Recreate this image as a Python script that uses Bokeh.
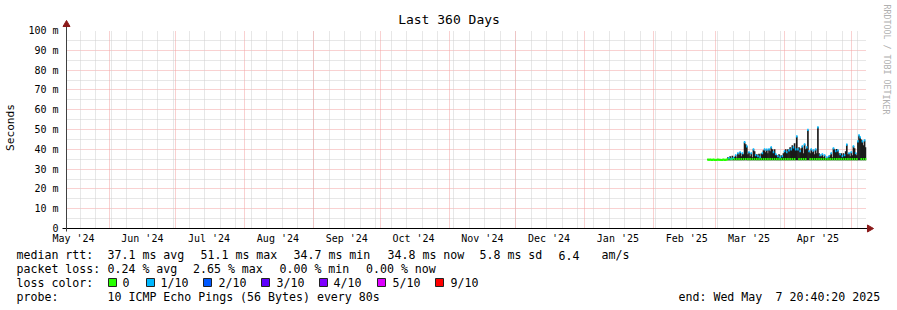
import pandas as pd
from math import pi
from bokeh.plotting import figure
from bokeh.models import (ColumnDataSource, Range1d, FixedTicker, Grid)
from bokeh.core.properties import value
from bokeh.embed import file_html
from bokeh.resources import INLINE

# ---------------- data ----------------
graph_start = "2024-05-12 20:40:20"
graph_end = "2025-05-07 20:40:20"
first_sample = "2025-02-25 12:00"      # 12 h consolidated RRA
sample_step = "12h"

median_ms = [
    34.8, 34.7, 34.8, 34.7, 34.7, 34.8, 34.7, 34.6, 34.7, 34.8, 34.7, 34.7, 34.6, 34.7, 34.8, 34.7, 34.7, 34.8,
    35.0, 35.5, 35.0, 35.2, 35.0, 35.5, 35.0, 37.0, 35.0,
    38.0, 35.0, 38.5, 35.0, 38.0, 35.0,
    43.6, 35.1, 41.5,
    35.0, 38.5, 35.0, 38.0, 35.0,
    40.0, 35.0, 37.0,
    35.0, 36.5, 35.0, 36.0, 35.0,
    38.0, 35.0, 40.0, 35.0, 39.8,
    35.0, 40.0, 35.0, 41.0, 35.0, 38.5, 35.0, 37.5,
    35.0, 36.5, 35.0, 36.0, 35.0, 36.5, 35.0,
    39.0, 35.0, 38.5, 35.0, 39.5, 35.0, 40.0,
    35.0, 41.0, 35.0, 40.0,
    46.5,
    40.0, 35.0, 39.0, 35.0, 41.5, 35.0,
    42.5, 35.0, 41.0,
    49.8,
    39.0, 35.0, 40.0, 35.0, 39.5, 35.0, 40.0, 35.0,
    51.1,
    35.0, 37.0, 35.0, 37.5, 35.0, 37.0,
    35.0, 36.0, 35.0, 36.5, 35.0, 38.0, 35.0,
    40.5, 35.0, 39.0, 35.0, 39.5, 35.0,
    37.5, 35.0, 36.5, 35.0, 37.0, 35.0,
    42.4,
    35.0, 38.0, 35.0, 38.5, 35.0,
    41.5, 35.0, 38.0, 35.0,
    44.0, 47.0, 46.0,
    35.0, 44.0, 35.0, 44.5, 35.0,
]

smoke_max_ms = [
    35.0, 35.0, 35.0, 35.0, 35.0, 35.0, 35.0, 35.0, 35.0, 35.0, 35.0, 35.0, 35.0, 35.0, 35.0, 35.0, 35.0, 35.0,
    36.0, 35.5, 36.5, 35.2, 36.8, 35.5, 36.2, 37.0, 35.8,
    38.0, 37.2, 38.5, 36.5, 38.0, 37.5,
    43.6, 42.5, 41.5,
    37.5, 38.5, 36.5, 38.0, 36.0,
    40.0, 39.0, 37.0,
    37.5, 36.5, 37.8, 36.0, 37.9,
    38.0, 39.5, 40.0, 38.5, 39.8,
    38.0, 40.0, 39.0, 41.0, 40.0, 38.5, 40.0, 37.5,
    37.0, 36.5, 37.5, 36.0, 37.0, 36.5, 38.0,
    39.0, 40.0, 38.5, 40.0, 39.5, 41.0, 40.0,
    42.0, 41.0, 43.0, 40.0,
    46.5,
    40.0, 41.0, 39.0, 40.5, 41.5, 38.0,
    42.5, 40.0, 41.0,
    49.8,
    39.0, 38.0, 40.0, 38.5, 39.5, 37.5, 40.0, 38.0,
    51.1,
    38.0, 37.0, 36.5, 37.5, 36.0, 37.0,
    35.5, 36.0, 35.5, 36.5, 37.0, 38.0, 36.0,
    40.5, 40.0, 39.0, 40.2, 39.5, 38.0,
    37.5, 38.0, 36.5, 38.0, 37.0, 39.0,
    42.4,
    37.5, 38.0, 36.5, 38.5, 37.0,
    41.5, 40.5, 38.0, 37.0,
    44.0, 47.0, 46.0,
    45.0, 44.0, 42.0, 44.5, 41.0,
]

smoke_min_ms = [
    34.6, 34.6, 34.6, 34.6, 34.6, 34.6, 34.6, 34.6, 34.6, 34.6, 34.6, 34.6, 34.6, 34.6, 34.6, 34.6, 34.6, 34.6,
    34.5, 34.5, 34.5, 34.5, 34.5, 34.5, 34.5, 34.5, 34.5,
    34.5, 34.5, 34.5, 34.5, 34.5, 34.5,
    34.5, 34.5, 34.5,
    34.5, 34.5, 34.5, 34.5, 34.5,
    34.5, 34.5, 34.5,
    34.5, 34.5, 34.5, 34.5, 34.5,
    34.5, 34.5, 34.5, 34.5, 34.5,
    34.5, 34.5, 34.5, 34.5, 34.5, 34.5, 34.5, 34.5,
    34.5, 34.5, 34.5, 34.5, 34.5, 34.5, 34.5,
    34.5, 34.5, 34.5, 34.5, 34.5, 34.5, 34.5,
    34.5, 34.5, 34.5, 34.5,
    34.5,
    34.5, 34.5, 34.5, 34.5, 34.5, 34.5,
    34.5, 34.5, 34.5,
    34.5,
    34.5, 34.5, 34.5, 34.5, 34.5, 34.5, 34.5, 34.5,
    34.5,
    34.5, 34.5, 34.5, 34.5, 34.5, 34.5,
    34.5, 34.5, 34.5, 34.5, 34.5, 34.5, 34.5,
    34.5, 34.5, 34.5, 34.5, 34.5, 34.5,
    34.5, 34.5, 34.5, 34.5, 34.5, 34.5,
    34.5,
    34.5, 34.5, 34.5, 34.5, 34.5,
    34.5, 34.5, 34.5, 34.5,
    34.5, 34.5, 34.5,
    34.5, 34.5, 34.5, 34.5, 34.5,
]

loss_tenths = [
    0, 0, 0, 0, 0, 0, 0, 0, 0, 0, 0, 0, 0, 0, 0, 0, 0, 0,
    0, 1, 0, 1, 0, 1, 0, 1, 0,
    1, 0, 1, 0, 1, 0,
    1, 0, 1,
    0, 1, 0, 1, 0,
    1, 0, 1,
    0, 1, 0, 1, 0,
    1, 0, 1, 0, 1,
    0, 1, 0, 1, 0, 1, 0, 1,
    0, 1, 0, 1, 0, 1, 0,
    1, 0, 1, 0, 1, 0, 1,
    0, 1, 0, 1,
    1,
    1, 0, 1, 0, 1, 0,
    1, 0, 1,
    1,
    1, 0, 1, 0, 1, 0, 1, 0,
    1,
    0, 1, 0, 1, 0, 1,
    0, 1, 0, 1, 0, 1, 0,
    1, 0, 1, 0, 1, 0,
    1, 0, 1, 0, 1, 0,
    1,
    0, 1, 0, 1, 0,
    1, 0, 1, 0,
    1, 1, 1,
    0, 1, 0, 1, 0,
]

month_labels = ["May '24", "Jun '24", "Jul '24", "Aug '24", "Sep '24", "Oct '24",
                "Nov '24", "Dec '24", "Jan '25", "Feb '25", "Mar '25", "Apr '25"]
y_tick_values = [0, 10, 20, 30, 40, 50, 60, 70, 80, 90, 100]
y_tick_labels = ["0", "10 m", "20 m", "30 m", "40 m", "50 m", "60 m", "70 m", "80 m", "90 m", "100 m"]
y_minor_values = [5, 15, 25, 35, 45, 55, 65, 75, 85, 95]

loss_legend_labels = ["0", "1/10", "2/10", "3/10", "4/10", "5/10", "9/10"]
loss_legend_colors = ["#26ff00", "#00b8ff", "#0059ff", "#5e00ff", "#7e00ff", "#dd00ff", "#ff0000"]
loss_color_by_tenths = {0: "#26ff00", 1: "#00b8ff", 2: "#0059ff", 3: "#5e00ff",
                        4: "#7e00ff", 5: "#dd00ff", 9: "#ff0000"}

title_text = "Last 360 Days"
y_label_text = "Seconds"
rtt_items = ["median rtt:", "37.1 ms avg", "51.1 ms max", "34.7 ms min", "34.8 ms now",
             "5.8 ms sd", "6.4", "am/s"]
loss_items = ["packet loss:", "0.24 % avg", "2.65 % max", "0.00 % min", "0.00 % now"]
color_heading = "loss color:"
probe_items = ["probe:", "10 ICMP Echo Pings (56 Bytes) every 80s"]
end_items = ["end: Wed May", "7 20:40:20 2025"]
watermark = "RRDTOOL / TOBI OETIKER"

# ---------------- geometry ----------------
W, H = 897, 310
FL, FR, FT, FB = 66, 866, 30, 228
MONO = "DejaVu Sans Mono"


def ms(ts):
    return pd.Timestamp(ts).value / 1e6


x0, x1 = ms(graph_start), ms(graph_end)
y0, y1 = 0.0, 100.0


def px_x(px):
    return x0 + (px - FL) / (FR - FL) * (x1 - x0)


def px_y(py):
    return y0 + (FB - py) / (FB - FT) * (y1 - y0)


times = pd.date_range(first_sample, periods=len(median_ms), freq=sample_step)
step_ms = 12 * 3600 * 1000
band = 0.55

src = ColumnDataSource(dict(
    t=times,
    lo=smoke_min_ms,
    hi=smoke_max_ms,
    mlo=[m - band for m in median_ms],
    mhi=[m + band for m in median_ms],
    color=[loss_color_by_tenths[l] for l in loss_tenths],
))

p = figure(width=W, height=H, x_axis_type="datetime",
           x_range=Range1d(x0, x1), y_range=Range1d(y0, y1),
           output_backend="svg", toolbar_location=None,
           min_border_left=FL, min_border_right=W - FR,
           min_border_top=FT, min_border_bottom=H - FB)
p.background_fill_color = "white"
p.border_fill_color = "white"
p.outline_line_color = None

# grids
p.xgrid.grid_line_color = None
week_ticks = [ms(t) for t in pd.date_range("2024-05-19", graph_end, freq="7D")]
month_ticks = [ms(t) for t in pd.date_range("2024-06-01", graph_end, freq="MS")]
p.add_layout(Grid(dimension=0, ticker=FixedTicker(ticks=week_ticks),
                  grid_line_color="#cfcfcf", grid_line_dash="1 1"))
p.add_layout(Grid(dimension=0, ticker=FixedTicker(ticks=month_ticks),
                  grid_line_color="#f3a3a3", grid_line_dash="1 1"))

p.yaxis.ticker = FixedTicker(ticks=y_tick_values, minor_ticks=y_minor_values)
p.ygrid.grid_line_color = "#f3a3a3"
p.ygrid.grid_line_dash = "1 1"
p.ygrid.minor_grid_line_color = "#cfcfcf"
p.ygrid.minor_grid_line_dash = "1 1"

# axes
label_ticks = [ms(t) + 15 * 86400000 for t in pd.date_range("2024-05-01", periods=len(month_labels), freq="MS")]
p.xaxis.ticker = FixedTicker(ticks=label_ticks)
p.xaxis.major_label_overrides = {k: v for k, v in zip(label_ticks, month_labels)}
p.yaxis.major_label_overrides = {k: v for k, v in zip(y_tick_values, y_tick_labels)}
for ax in (p.xaxis, p.yaxis):
    ax.axis_line_color = None
    ax.major_tick_line_color = None
    ax.minor_tick_line_color = None
    ax.major_label_text_font = MONO
    ax.major_label_text_font_size = "10px"
    ax.major_label_text_color = "#000000"
p.xaxis.major_label_standoff = -2
p.yaxis.major_label_standoff = 2

# smoke + median
p.vbar(x="t", width=step_ms * 1.5, bottom="lo", top="hi", source=src,
       fill_color="#1a1a1a", line_color=None)
p.vbar(x="t", width=step_ms * 1.4, bottom="mlo", top="mhi", source=src,
       fill_color="color", line_color=None)

# axis lines and arrow heads (overlay level: drawn outside the frame too)
p.segment(x0=[px_x(62), x0], y0=[0, px_y(231)], x1=[px_x(869), x0], y1=[0, px_y(25)],
          line_color=["#000000", "#404040"], line_width=1, level="overlay")
arrow_col = "#8b1a1a"
p.scatter(x=[px_x(869)], y=[0], marker="triangle", angle=-pi / 2, size=7,
          fill_color=arrow_col, line_color=arrow_col, level="overlay")
p.scatter(x=[x0], y=[px_y(24)], marker="triangle", size=7,
          fill_color=arrow_col, line_color=arrow_col, level="overlay")

# texts
tx, ty, tt, tsize, talign, tangle, tcolor = [], [], [], [], [], [], []


def add_text(px, py, s, size="11.6px", align="left", angle=0.0, color="#000000"):
    tx.append(px_x(px)); ty.append(px_y(py)); tt.append(s); tsize.append(size)
    talign.append(align); tangle.append(angle); tcolor.append(color)


add_text(448.5, 19, title_text, size="13px", align="center")
add_text(10, 127, y_label_text, size="11.2px", align="center", angle=pi / 2)
add_text(886, 4, watermark, size="8.3px", align="left", angle=-pi / 2, color="#b0b0b0")

for px, s in zip([16, 107, 200, 293, 387, 479, 558, 601], rtt_items):
    add_text(px, 254.5, s)
for px, s in zip([16, 107, 192.5, 279, 365.5], loss_items):
    add_text(px, 268, s)
add_text(16, 282, color_heading)
for px, s in zip([16, 107], probe_items):
    add_text(px, 296, s)
for px, s in zip([678, 775], end_items):
    add_text(px, 296, s)

box_left = [108, 146, 203, 261, 319, 377, 435]
label_left = [122, 160, 218, 276, 333, 392, 450]
for tl, lab in zip(label_left, loss_legend_labels):
    add_text(tl, 282, lab)

text_src = ColumnDataSource(dict(x=tx, y=ty, text=tt, size=tsize, align=talign,
                                 angle=tangle, color=tcolor))
p.text(x="x", y="y", text="text", source=text_src, text_font=value(MONO),
       text_font_size="size", text_align="align", text_baseline="middle",
       angle="angle", text_color="color", level="overlay")

p.quad(left=[px_x(b) for b in box_left], right=[px_x(b + 8) for b in box_left],
       bottom=px_y(286), top=px_y(278), fill_color=loss_legend_colors,
       line_color="#222222", line_width=1, level="overlay")

open("out.html", "w").write(file_html(p, INLINE))
